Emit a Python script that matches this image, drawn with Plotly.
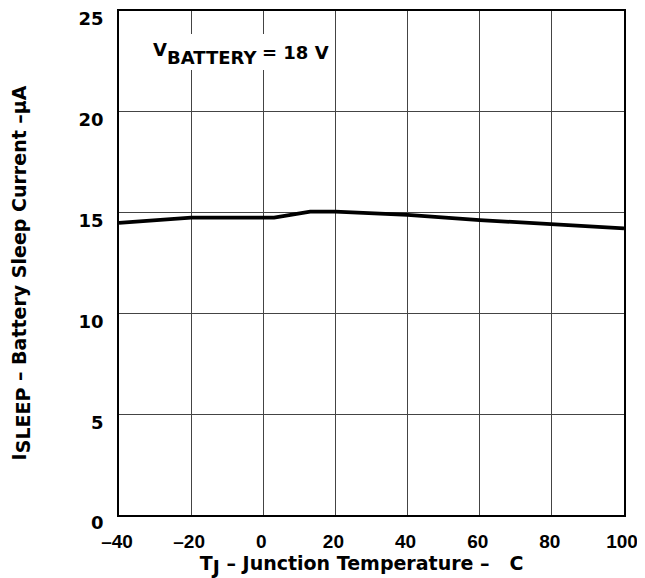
import plotly.graph_objects as go

temp_c = [-40, -20, 3, 13, 20, 40, 60, 80, 100]
sleep_current_ua = [14.49, 14.75, 14.75, 15.05, 15.05, 14.89, 14.63, 14.43, 14.22]

x_ticks = [-40, -20, 0, 20, 40, 60, 80, 100]
x_tick_labels = ["\u201340", "\u201320", "0", "20", "40", "60", "80", "100"]
y_ticks = [0, 5, 10, 15, 20, 25]
y_tick_labels = ["0", "5", "10", "15", "20", "25"]

FONT = "DejaVu Sans, Verdana, sans-serif"
ARIAL = "Liberation Sans, Arial, sans-serif"
SUB = "<sub><span style=\"font-size:19px\">{}</span></sub>"
PAD = "\u00a0" * 3

fig = go.Figure()
fig.add_trace(go.Scatter(
    x=temp_c, y=sleep_current_ua, mode="lines",
    line=dict(color="black", width=3.8), showlegend=False, hoverinfo="skip"))

# white box behind the condition label
fig.add_shape(type="rect", xref="x", yref="y", x0=-32, x1=18.8, y0=22.07, y1=23.86,
              fillcolor="white", line=dict(width=0), layer="above")

fig.update_layout(
    width=645, height=578,
    margin=dict(l=111, r=29, t=3, b=71),
    paper_bgcolor="white", plot_bgcolor="white",
    font=dict(family=FONT, size=18, color="black", weight="bold"),
    xaxis=dict(
        range=[-40, 100], tickvals=x_ticks,
        ticktext=["<b>%s</b>" % t for t in x_tick_labels],
        showgrid=True, gridcolor="#444444", gridwidth=1,
        showline=True, linecolor="black", linewidth=1.5, mirror=True,
        ticks="", zeroline=False, automargin=False, ticklabelstandoff=8,
        ticklabelshift=-2, ticklabeloverflow="allow",
        tickfont=dict(family=ARIAL, size=19, color="black", weight="bold"),
        title=dict(text="<b>T" + SUB.format("J") + " \u2013 Junction Temperature \u2013   C" + PAD + "</b>",
                   font=dict(family=FONT, size=19, color="black"), standoff=6),
    ),
    yaxis=dict(
        range=[0, 25], tickvals=y_ticks,
        ticktext=["<b>%s</b>" % t for t in y_tick_labels],
        showgrid=True, gridcolor="#444444", gridwidth=1,
        showline=True, linecolor="black", linewidth=1.5, mirror=True,
        ticks="", zeroline=False, automargin=False,
        ticklabelstandoff=10, ticklabelshift=8, ticklabeloverflow="allow",
        tickfont=dict(family=FONT, size=18, color="black", weight="bold"),
        title=dict(text="<b>I" + SUB.format("SLEEP") + " \u2013 Battery Sleep Current \u2013\u00b5A" + PAD + "</b>",
                   font=dict(family=FONT, size=19, color="black"), standoff=52),
    ),
    annotations=[
        dict(x=-31.2, y=23.08, xref="x", yref="y", xanchor="left", yanchor="middle",
             text="<b>V</b>", showarrow=False,
             font=dict(family=FONT, size=18, color="black")),
        dict(x=-27.3, y=22.68, xref="x", yref="y", xanchor="left", yanchor="middle",
             text="<b>BATTERY</b>", showarrow=False,
             font=dict(family=FONT, size=18, color="black")),
        dict(x=-0.8, y=22.95, xref="x", yref="y", xanchor="left", yanchor="middle",
             text="<b>= 18 V</b>", showarrow=False,
             font=dict(family=FONT, size=18, color="black")),
    ],
)

fig.write_html("out.html")
